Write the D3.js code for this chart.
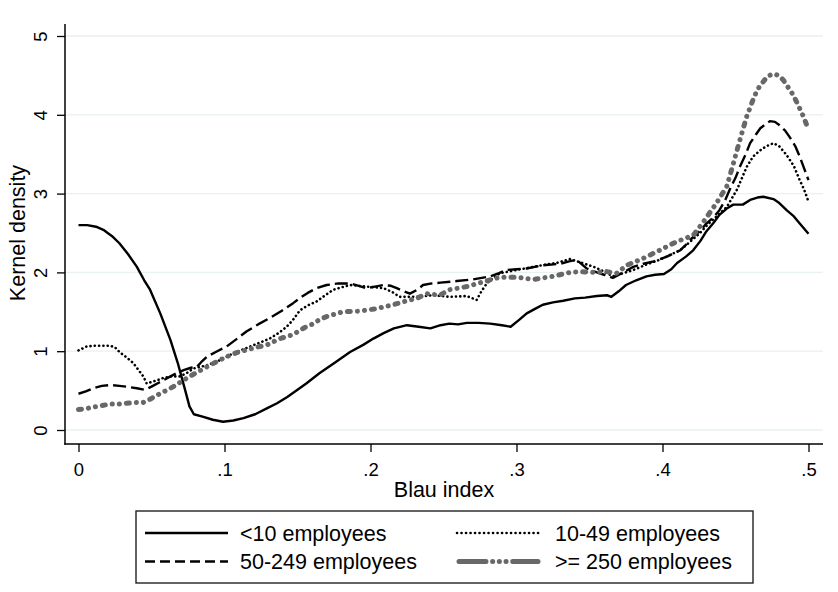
<!DOCTYPE html>
<html>
<head>
<meta charset="utf-8">
<script src="https://cdn.jsdelivr.net/npm/d3@7/dist/d3.min.js"></script>
<style>
  html, body { margin: 0; padding: 0; background: #fff; }
  svg { display: block; font-family: "Liberation Sans", Arial, sans-serif; }
</style>
</head>
<body>
<svg id="chart" width="838" height="592"></svg>
<script>
// ---------- DATA ----------
const xTicks = [0, 0.1, 0.2, 0.3, 0.4, 0.5];
const xTickLabels = ["0", ".1", ".2", ".3", ".4", ".5"];
const yTicks = [0, 1, 2, 3, 4, 5];
const yTickLabels = ["0", "1", "2", "3", "4", "5"];
const xTitle = "Blau index";
const yTitle = "Kernel density";
const seriesNames = ["<10 employees", "10-49 employees", "50-249 employees", ">= 250 employees"];

const lt10X = [0,0.006,0.012,0.017,0.023,0.028,0.034,0.040,0.045,0.049,0.056,0.063,0.068,0.073,0.076,0.079,0.085,0.092,0.099,0.106,0.113,0.121,0.129,0.136,0.143,0.150,0.156,0.165,0.176,0.186,0.195,0.202,0.209,0.216,0.225,0.233,0.241,0.248,0.254,0.260,0.266,0.274,0.282,0.290,0.296,0.302,0.307,0.313,0.318,0.325,0.332,0.340,0.347,0.355,0.362,0.365,0.370,0.375,0.382,0.389,0.395,0.401,0.406,0.410,0.416,0.421,0.426,0.430,0.435,0.439,0.444,0.4485,0.455,0.460,0.465,0.469,0.476,0.480,0.485,0.490,0.494,0.500];
const lt10Y = [2.60,2.60,2.58,2.54,2.46,2.37,2.23,2.07,1.90,1.78,1.48,1.14,0.85,0.51,0.30,0.20,0.17,0.13,0.105,0.12,0.15,0.20,0.275,0.34,0.42,0.51,0.59,0.72,0.86,0.99,1.08,1.16,1.23,1.29,1.33,1.31,1.29,1.33,1.35,1.34,1.36,1.36,1.35,1.33,1.31,1.40,1.48,1.54,1.59,1.62,1.64,1.67,1.68,1.70,1.71,1.69,1.76,1.84,1.90,1.95,1.97,1.98,2.04,2.12,2.20,2.28,2.40,2.52,2.63,2.73,2.81,2.86,2.86,2.92,2.95,2.96,2.93,2.88,2.79,2.71,2.62,2.49];

const e10X = [0,0.0056,0.012,0.0216,0.025,0.028,0.033,0.0375,0.0444,0.0467,0.050,0.0536,0.058,0.063,0.0695,0.074,0.0786,0.083,0.0878,0.095,0.1015,0.108,0.115,0.123,0.131,0.137,0.1426,0.147,0.1517,0.157,0.163,0.169,0.1745,0.180,0.186,0.197,0.203,0.209,0.215,0.220,0.226,0.2316,0.243,0.254,0.266,0.2727,0.276,0.2796,0.284,0.2887,0.300,0.3115,0.320,0.3275,0.3366,0.345,0.353,0.360,0.366,0.373,0.380,0.389,0.398,0.405,0.412,0.419,0.4257,0.431,0.437,0.444,0.451,0.4577,0.462,0.467,0.471,0.476,0.480,0.485,0.490,0.494,0.497,0.500];
const e10Y = [1.01,1.06,1.07,1.07,1.05,0.99,0.92,0.85,0.68,0.59,0.61,0.63,0.66,0.68,0.68,0.72,0.78,0.80,0.82,0.87,0.93,0.99,1.04,1.10,1.16,1.23,1.31,1.40,1.52,1.58,1.63,1.71,1.78,1.81,1.84,1.82,1.81,1.80,1.75,1.69,1.69,1.69,1.71,1.69,1.70,1.65,1.76,1.86,1.93,1.99,2.03,2.07,2.10,2.12,2.17,2.12,2.07,2.01,1.95,1.99,2.03,2.10,2.16,2.22,2.28,2.39,2.50,2.61,2.71,2.83,3.05,3.34,3.47,3.55,3.60,3.64,3.60,3.49,3.35,3.17,3.05,2.90];

const e50X = [0,0.005,0.010,0.016,0.022,0.028,0.033,0.040,0.0455,0.050,0.054,0.058,0.063,0.067,0.072,0.077,0.081,0.084,0.088,0.095,0.1015,0.108,0.115,0.123,0.131,0.139,0.147,0.152,0.157,0.163,0.170,0.178,0.186,0.192,0.197,0.203,0.209,0.214,0.218,0.223,0.227,0.232,0.236,0.242,0.248,0.259,0.270,0.282,0.288,0.293,0.300,0.307,0.318,0.330,0.336,0.341,0.345,0.348,0.355,0.360,0.366,0.373,0.380,0.387,0.394,0.403,0.412,0.416,0.421,0.426,0.430,0.435,0.439,0.443,0.446,0.450,0.453,0.457,0.460,0.464,0.467,0.4736,0.477,0.480,0.484,0.487,0.491,0.494,0.497,0.500];
const e50Y = [0.46,0.49,0.53,0.56,0.57,0.56,0.55,0.53,0.51,0.55,0.59,0.63,0.68,0.72,0.76,0.79,0.80,0.86,0.93,1.00,1.06,1.15,1.25,1.34,1.42,1.51,1.61,1.68,1.74,1.80,1.84,1.86,1.86,1.83,1.80,1.82,1.84,1.83,1.80,1.76,1.73,1.78,1.84,1.86,1.87,1.89,1.91,1.95,1.99,2.03,2.04,2.05,2.09,2.11,2.14,2.16,2.10,2.05,2.00,1.97,1.93,2.00,2.07,2.11,2.14,2.20,2.28,2.35,2.45,2.53,2.62,2.70,2.79,2.92,3.05,3.20,3.34,3.50,3.64,3.75,3.83,3.92,3.91,3.87,3.80,3.72,3.60,3.47,3.32,3.17];

const e250X = [0,0.005,0.010,0.016,0.0216,0.028,0.033,0.040,0.0444,0.049,0.0536,0.060,0.065,0.070,0.076,0.082,0.0878,0.095,0.1015,0.108,0.115,0.122,0.129,0.138,0.147,0.152,0.156,0.161,0.165,0.170,0.181,0.193,0.204,0.2156,0.225,0.2316,0.2385,0.2476,0.254,0.266,0.2773,0.2887,0.300,0.3115,0.325,0.3366,0.3435,0.3526,0.3618,0.3686,0.3755,0.387,0.398,0.4097,0.421,0.428,0.437,0.444,0.4485,0.453,0.4577,0.462,0.465,0.469,0.472,0.476,0.4795,0.4828,0.486,0.4896,0.493,0.4965,0.500];
const e250Y = [0.26,0.27,0.29,0.31,0.33,0.33,0.34,0.35,0.35,0.39,0.44,0.50,0.55,0.61,0.68,0.74,0.80,0.87,0.93,0.98,1.015,1.05,1.08,1.16,1.21,1.27,1.31,1.35,1.40,1.44,1.50,1.51,1.54,1.59,1.64,1.67,1.73,1.71,1.78,1.82,1.88,1.94,1.94,1.91,1.95,2.00,2.01,2.00,2.01,1.99,2.09,2.18,2.28,2.39,2.47,2.64,2.88,3.09,3.38,3.68,3.98,4.19,4.32,4.42,4.49,4.52,4.50,4.44,4.35,4.25,4.12,3.98,3.81];

// ---------- LAYOUT ----------
const svg = d3.select("#chart");
svg.append("rect").attr("width", 838).attr("height", 592).attr("fill", "#fff");

const plotLeft = 65, plotRight = 823, plotTop = 24, plotBottom = 444;
const x = d3.scaleLinear().domain([0, 0.5]).range([78.5, 808.5]);
const y = d3.scaleLinear().domain([0, 5]).range([430, 36]);

// gridlines
svg.append("g").selectAll("line").data(yTicks).join("line")
  .attr("x1", plotLeft).attr("x2", plotRight)
  .attr("y1", d => y(d)).attr("y2", d => y(d))
  .attr("stroke", "#e8f0f2").attr("stroke-width", 1.3);

// series
const styles = [
  { xs: lt10X, ys: lt10Y, color: "#000", width: 2.4, dash: null, cap: "butt" },
  { xs: e10X, ys: e10Y, color: "#000", width: 2.6, dash: "0.1,4.2", cap: "round" },
  { xs: e50X, ys: e50Y, color: "#000", width: 2.4, dash: "13,5", cap: "butt" },
  { xs: e250X, ys: e250Y, color: "#686868", width: 5, dash: "3,7,0.1,7,0.1,7", cap: "round" }
];
const line = d3.line().x(d => x(d[0])).y(d => y(d[1])).curve(d3.curveLinear);
styles.forEach(s => {
  const pts = s.xs.map((v, i) => [v, s.ys[i]]);
  svg.append("path").datum(pts)
    .attr("d", line)
    .attr("fill", "none")
    .attr("stroke", s.color)
    .attr("stroke-width", s.width)
    .attr("stroke-linecap", s.cap)
    .attr("stroke-linejoin", "round")
    .attr("stroke-dasharray", s.dash);
});

// axes
const xAxis = d3.axisBottom(x).tickValues(xTicks).tickFormat((d, i) => xTickLabels[i]).tickSize(8);
const gx = svg.append("g").attr("transform", `translate(0,${plotBottom})`).call(xAxis);
gx.select(".domain").remove();
gx.selectAll(".tick line").attr("stroke", "#000").attr("stroke-width", 1.3);
gx.selectAll(".tick text").attr("y", 32).attr("dy", 0)
  .attr("font-size", 18.5).attr("fill", "#000")
  .attr("font-family", "'Liberation Sans', Arial, sans-serif");

const yAxis = d3.axisLeft(y).tickValues(yTicks).tickFormat((d, i) => yTickLabels[i]).tickSize(8);
const gy = svg.append("g").attr("transform", `translate(${plotLeft},0)`).call(yAxis);
gy.select(".domain").remove();
gy.selectAll(".tick line").attr("stroke", "#000").attr("stroke-width", 1.3);
gy.selectAll(".tick text")
  .attr("x", 0).attr("dy", 0)
  .attr("transform", "translate(-18.5,0) rotate(-90)")
  .attr("text-anchor", "middle")
  .attr("font-size", 18.5).attr("fill", "#000")
  .attr("font-family", "'Liberation Sans', Arial, sans-serif");

// axis lines
svg.append("line").attr("x1", plotLeft).attr("x2", plotLeft).attr("y1", plotTop).attr("y2", plotBottom + 0.7)
  .attr("stroke", "#000").attr("stroke-width", 1.5);
svg.append("line").attr("x1", plotLeft - 0.7).attr("x2", plotRight).attr("y1", plotBottom).attr("y2", plotBottom)
  .attr("stroke", "#000").attr("stroke-width", 1.5);

// titles
svg.append("text").attr("x", (plotLeft + plotRight) / 2 + 0).attr("y", 497)
  .attr("text-anchor", "middle").attr("font-size", 21.5).attr("fill", "#000").text(xTitle);
svg.append("text").attr("transform", `translate(25,${(y(0) + y(5)) / 2}) rotate(-90)`)
  .attr("text-anchor", "middle").attr("font-size", 21.5).attr("fill", "#000").text(yTitle);

// legend
const lg = svg.append("g");
lg.append("rect").attr("x", 136).attr("y", 511).attr("width", 617).attr("height", 72)
  .attr("fill", "#fff").attr("stroke", "#222").attr("stroke-width", 1.4);
const legendItems = [
  { name: seriesNames[0], s: styles[0], lx: 145, ly: 533, tx: 240, ty: 540.5 },
  { name: seriesNames[1], s: styles[1], lx: 457, ly: 533, tx: 555, ty: 540.5 },
  { name: seriesNames[2], s: styles[2], lx: 145, ly: 561.5, tx: 240, ty: 569 },
  { name: seriesNames[3], s: styles[3], lx: 457, ly: 561.5, tx: 555, ty: 569 }
];
const legendDash = ["", "0.1,4.4", "10,5", "27,6.6,0.1,6.6,0.1,6.6,0.1,6.6"];
legendItems.forEach((it, i) => {
  const x1 = i === 3 ? it.lx + 2 : it.lx;
  const x2 = i === 3 ? it.lx + 81 : it.lx + 83;
  lg.append("line").attr("x1", x1).attr("x2", x2).attr("y1", it.ly).attr("y2", it.ly)
    .attr("stroke", it.s.color).attr("stroke-width", it.s.width)
    .attr("stroke-linecap", it.s.cap)
    .attr("stroke-dasharray", legendDash[i] || null);
  lg.append("text").attr("x", it.tx).attr("y", it.ty).attr("font-size", 21.5).attr("fill", "#000").text(it.name);
});
</script>
</body>
</html>
